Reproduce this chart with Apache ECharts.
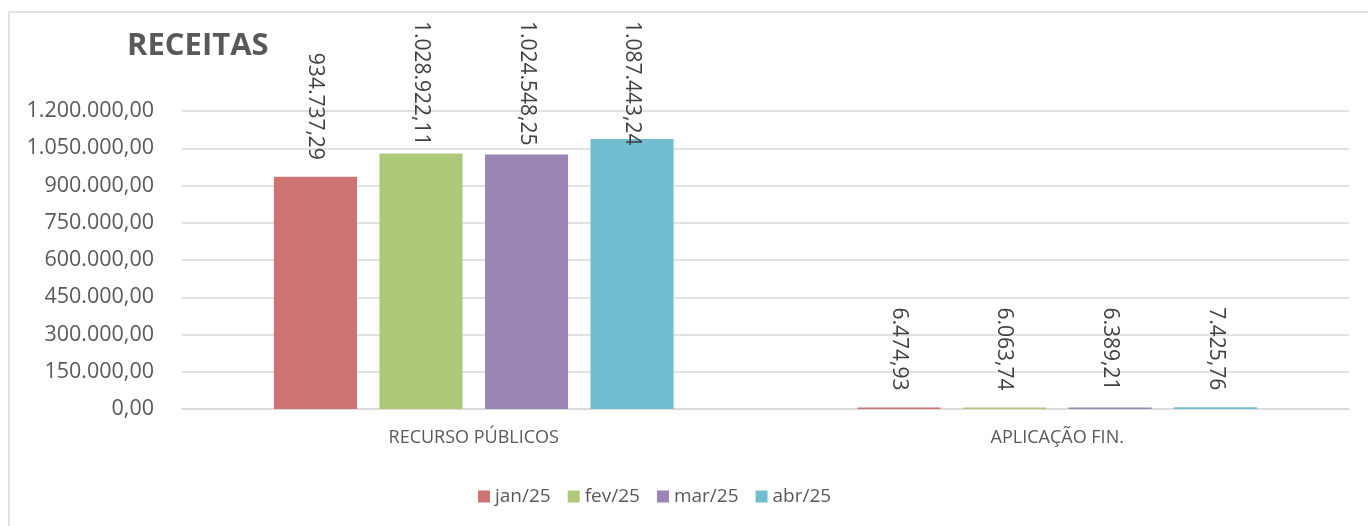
<!DOCTYPE html>
<html>
<head>
<meta charset="utf-8">
<script src="https://cdn.jsdelivr.net/npm/echarts@6/dist/echarts.min.js"></script>
<style>
  html, body { margin: 0; padding: 0; background: #fff; }
  #chart { width: 1368px; height: 526px; }
</style>
</head>
<body>
<div id="chart"></div>
<script>
var categories = ['RECURSO PÚBLICOS', 'APLICAÇÃO FIN.'];
var months = ['jan/25', 'fev/25', 'mar/25', 'abr/25'];
var jan = [934737.29, 6474.93];
var fev = [1028922.11, 6063.74];
var mar = [1024548.25, 6389.21];
var abr = [1087443.24, 7425.76];
var colors = ['#CD7371', '#AFC97A', '#9A85B6', '#71BDD1'];

function fmt(v) {
    var parts = Number(v).toFixed(2).split('.');
    var intPart = parts[0].replace(/\B(?=(\d{3})+(?!\d))/g, '.');
    return intPart + ',' + parts[1];
}

var font = 'Open Sans';
var chart = echarts.init(document.getElementById('chart'));

var seriesData = [jan, fev, mar, abr];
var series = seriesData.map(function (d, i) {
    return {
        name: months[i],
        type: 'bar',
        data: d,
        barGap: '27%',
        barCategoryGap: '31.5%',
        itemStyle: { color: colors[i] },
        label: {
            show: true,
            position: 'top',
            rotate: -90,
            align: 'right',
            verticalAlign: 'middle',
            distance: 17,
            color: '#404040',
            fontFamily: font,
            fontSize: 21,
            formatter: function (p) { return fmt(p.value); }
        },
        labelLayout: function (p) {
            var r = p.labelRect;
            if (r.y < 21) {
                return { y: 21 + r.height };
            }
        }
    };
});

var option = {
    animation: false,
    color: colors,
    title: {
        text: 'RECEITAS',
        left: 122,
        top: 26,
        textStyle: { fontFamily: font, fontSize: 31, fontWeight: 'bold', color: '#595959' }
    },
    graphic: [{
        type: 'rect',
        shape: { x: 9, y: 12, width: 1400, height: 600 },
        style: { fill: 'none', stroke: '#d9d9d9', lineWidth: 1.5 },
        silent: true
    }],
    legend: {
        data: months,
        left: 473,
        top: 482,
        itemWidth: 12,
        itemHeight: 12,
        itemGap: 17,
        icon: 'rect',
        textStyle: { fontFamily: font, fontSize: 19, color: '#595959' }
    },
    grid: { left: 182, right: 19, top: 111, bottom: 117 },
    xAxis: {
        type: 'category',
        data: categories,
        axisTick: { show: false },
        axisLine: { lineStyle: { color: '#d9d9d9', width: 1.5 } },
        axisLabel: { margin: 20, fontFamily: font, fontSize: 18, color: '#595959' }
    },
    yAxis: {
        type: 'value',
        min: 0,
        max: 1200000,
        interval: 150000,
        axisLine: { show: false },
        axisTick: { show: false },
        splitLine: { lineStyle: { color: '#d9d9d9', width: 1.5 } },
        axisLabel: {
            margin: 28,
            fontFamily: font,
            fontSize: 21.5,
            color: '#595959',
            formatter: function (v) { return fmt(v); }
        }
    },
    series: series
};
chart.setOption(option);
</script>
</body>
</html>
